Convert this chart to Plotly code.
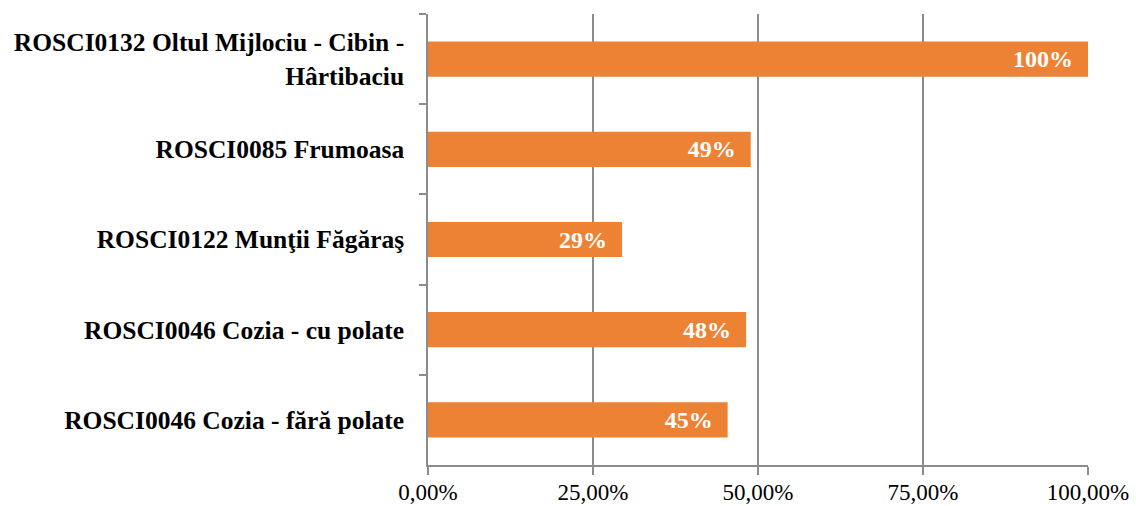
import plotly.graph_objects as go

# Site names (top to bottom) and their share values in percent
sites = [
    "ROSCI0132 Oltul Mijlociu - Cibin -<br>Hârtibaciu",
    "ROSCI0085 Frumoasa",
    "ROSCI0122 Munţii Făgăraş",
    "ROSCI0046 Cozia - cu polate",
    "ROSCI0046 Cozia - fără polate",
]
shares = [100.0, 48.9, 29.4, 48.2, 45.4]

tick_vals = [0, 25, 50, 75, 100]
tick_text = ["0,00%", "25,00%", "50,00%", "75,00%", "100,00%"]

BAR_COLOR = "#EE8234"
GRID_COLOR = "#8C8C8C"
SERIF = "Liberation Serif, Times New Roman, serif"

fig = go.Figure(
    go.Bar(
        x=shares,
        y=sites,
        orientation="h",
        marker=dict(color=BAR_COLOR, line=dict(width=0)),
        # non-breaking spaces keep the value a little away from the bar end
        texttemplate="%{x:.0f}%\u00a0\u00a0",
        textposition="inside",
        insidetextanchor="end",
        textfont=dict(family=SERIF, size=24, color="white", weight="bold"),
        cliponaxis=False,
    )
)

fig.update_layout(
    width=1136,
    height=506,
    margin=dict(l=428, r=48, t=14, b=41),
    plot_bgcolor="white",
    paper_bgcolor="white",
    bargap=0.61,
    showlegend=False,
    font=dict(family=SERIF, color="black"),
)

fig.update_xaxes(
    range=[0, 100],
    automargin=False,
    tickvals=tick_vals,
    ticktext=tick_text,
    tickfont=dict(family=SERIF, size=23, color="black"),
    showgrid=True,
    gridcolor=GRID_COLOR,
    gridwidth=1.5,
    showline=True,
    linecolor=GRID_COLOR,
    linewidth=1.5,
    ticks="outside",
    ticklen=8,
    tickcolor=GRID_COLOR,
    tickwidth=1.5,
    ticklabelstandoff=-2,
    zeroline=False,
)

fig.update_yaxes(
    type="category",
    autorange="reversed",
    automargin=False,
    tickfont=dict(family=SERIF, size=25.5, color="black", weight="bold"),
    showline=True,
    linecolor=GRID_COLOR,
    linewidth=1.5,
    ticks="outside",
    tickson="boundaries",
    ticklen=7,
    tickcolor=GRID_COLOR,
    tickwidth=1.5,
    ticklabelstandoff=17,
    showgrid=False,
)

fig.write_html("out.html")
